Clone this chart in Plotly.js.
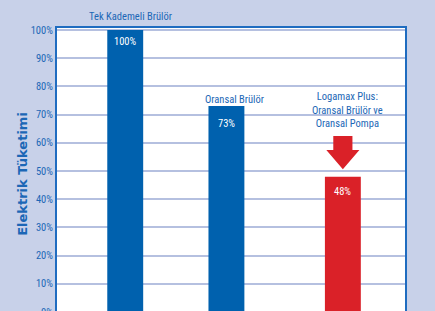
<!DOCTYPE html>
<html>
<head>
<meta charset="utf-8">
<script src="https://cdn.plot.ly/plotly-3.0.1.min.js"></script>
<style>
html,body{margin:0;padding:0;overflow:hidden;background:#c8d1e9;}
#chart{width:435px;height:340px;}
</style>
</head>
<body>
<div id="chart"></div>
<script>
// Data
const categories = ["Tek Kademeli Brülör", "Oransal Brülör", "Logamax Plus"];
const consumption = [100, 73, 48];
const valueLabels = ["100%", "73%", "48%"];
const barLabels = ["Tek Kademeli Brülör", "Oransal Brülör", "Logamax Plus:<br>Oransal Brülör ve<br>Oransal Pompa"];
const yTitle = "Elektrik Tüketimi";
const tickVals = [0, 10, 20, 30, 40, 50, 60, 70, 80, 90, 100];
const tickText = ["0%", "10%", "20%", "30%", "40%", "50%", "60%", "70%", "80%", "90%", "100%"];

const blue = "#0061ae";
const red = "#da2128";
const txtBlue = "#1c67b6";
const narrow = "Liberation Sans Narrow, Arial Narrow, Roboto Condensed, sans-serif";

const trace = {
  type: "bar",
  x: categories,
  y: consumption,
  width: 0.33,
  offset: [-0.165, -0.235, -0.165],
  marker: {color: [blue, blue, red], line: {width: 0}},
  hoverinfo: "skip"
};

const annotations = [];
// value labels inside bars
const inOff = [-12, -17, -15];
categories.forEach((c, i) => {
  const shiftX = [0, -0.07, 0][i];
  annotations.push({
    x: i + shiftX, y: consumption[i], xref: "x", yref: "y",
    text: valueLabels[i], showarrow: false, yshift: inOff[i],
    font: {family: narrow, size: 10.5, color: "#ffffff"}
  });
});
// category labels above bars
annotations.push({
  x: 0.05, y: consumption[0], xref: "x", yref: "y", text: barLabels[0],
  showarrow: false, yshift: 13, font: {family: narrow, size: 10.5, color: txtBlue}
});
annotations.push({
  x: 1.0, y: consumption[1], xref: "x", yref: "y", text: barLabels[1],
  showarrow: false, yshift: 7, font: {family: narrow, size: 10.5, color: txtBlue}
});
annotations.push({
  x: 2.04, y: consumption[2], xref: "x", yref: "y", text: barLabels[2],
  showarrow: false, yshift: 67, align: "center",
  font: {family: narrow, size: 10.5, color: txtBlue}
});
// y-axis title
annotations.push({
  x: -0.098, y: 0.486, xref: "paper", yref: "paper", text: yTitle,
  textangle: -90, showarrow: false, xanchor: "center", yanchor: "middle",
  font: {family: "DejaVu Sans, sans-serif", size: 13, color: txtBlue, weight: "bold"}
});

// red arrow above the third bar
const ax = 2, hw = 0.152, sw = 0.088;
const tip = consumption[2] + 2.6, headTop = consumption[2] + 9.4, tail = consumption[2] + 14.4;
const arrowPath = `M ${ax - sw} ${tail} L ${ax + sw} ${tail} L ${ax + sw} ${headTop} L ${ax + hw} ${headTop} L ${ax} ${tip} L ${ax - hw} ${headTop} L ${ax - sw} ${headTop} Z`;

const layout = {
  width: 435, height: 340,
  margin: {l: 57, r: 30, t: 28, b: 28},
  paper_bgcolor: "#c8d1e9",
  plot_bgcolor: "#ffffff",
  showlegend: false,
  xaxis: {
    type: "category", range: [-0.627, 2.571],
    showticklabels: false, showgrid: false, zeroline: false,
    showline: true, mirror: true, linecolor: "#1f6cc0", linewidth: 2, ticks: ""
  },
  yaxis: {
    range: [0, 100.7], tickvals: tickVals, ticktext: tickText,
    showgrid: true, gridcolor: "#b5c0e0", gridwidth: 2, zeroline: false,
    showline: true, mirror: true, linecolor: "#1f6cc0", linewidth: 2,
    ticks: "", ticklen: 0,
    tickfont: {family: narrow, size: 10.5, color: txtBlue}
  },
  shapes: [{
    type: "path", xref: "x", yref: "y", path: arrowPath,
    fillcolor: red, line: {width: 0}, layer: "above"
  }],
  annotations: annotations
};

Plotly.newPlot("chart", [trace], layout, {displayModeBar: false, staticPlot: true});
</script>
</body>
</html>
